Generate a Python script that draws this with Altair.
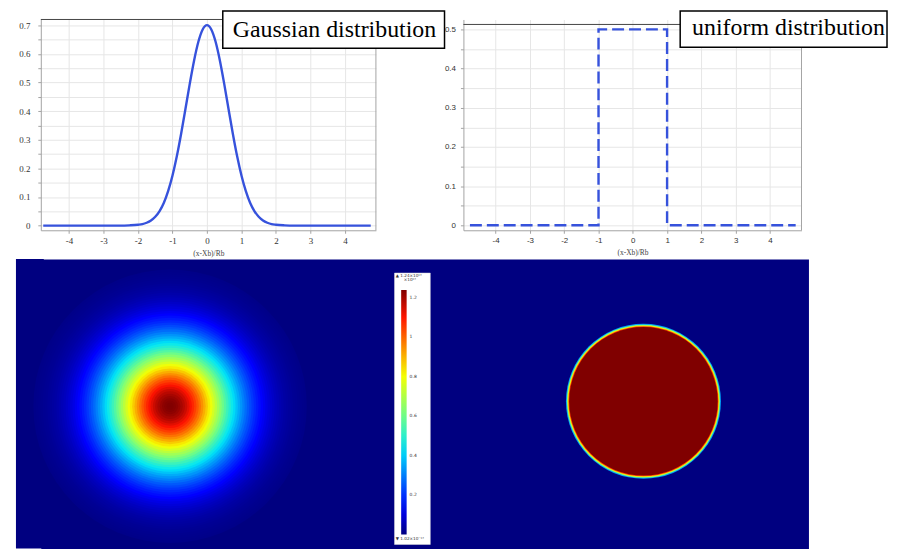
import altair as alt
import pandas as pd

# ---------------- data ----------------
gauss_x = [-4.75, -2.5, -2.25, -2.0, -1.875, -1.75, -1.625, -1.5, -1.375, -1.25, -1.125, -1.0,
           -0.875, -0.75, -0.625, -0.5, -0.375, -0.25, -0.125, 0.0, 0.125, 0.25, 0.375, 0.5,
           0.625, 0.75, 0.875, 1.0, 1.125, 1.25, 1.375, 1.5, 1.625, 1.75, 1.875, 2.0, 2.25, 2.5, 4.75]
gauss_y = [0.0, 0.0, 0.001, 0.003, 0.005, 0.010, 0.018, 0.031, 0.051, 0.080, 0.121, 0.175,
           0.242, 0.321, 0.407, 0.495, 0.576, 0.642, 0.685, 0.700, 0.685, 0.642, 0.576, 0.495,
           0.407, 0.321, 0.242, 0.175, 0.121, 0.080, 0.051, 0.031, 0.018, 0.010, 0.005, 0.003, 0.001, 0.0, 0.0]
unif_x = [-4.75, -1.0, -1.0, 1.0, 1.0, 4.75]
unif_y = [0.0, 0.0, 0.5, 0.5, 0.0, 0.0]
x_ticks = [-4, -3, -2, -1, 0, 1, 2, 3, 4]
gauss_y_ticks = [0, 0.05, 0.1, 0.15, 0.2, 0.25, 0.3, 0.35, 0.4, 0.45, 0.5, 0.55, 0.6, 0.65, 0.7]
unif_y_ticks = [0, 0.05, 0.1, 0.15, 0.2, 0.25, 0.3, 0.35, 0.4, 0.45, 0.5]

# bottom: radial profile of the Gaussian spot (outer radius of each disc in Rb, value x1e13)
blob_r = [0.015, 0.045, 0.075, 0.105, 0.135, 0.165, 0.195, 0.225, 0.255, 0.285,
          0.315, 0.345, 0.375, 0.405, 0.435, 0.465, 0.495, 0.525, 0.555, 0.585,
          0.615, 0.645, 0.675, 0.705, 0.735, 0.765, 0.795, 0.825, 0.855, 0.885,
          0.915, 0.945, 0.975, 1.005, 1.035, 1.065, 1.095, 1.125, 1.155, 1.185,
          1.215, 1.245, 1.275, 1.305, 1.335, 1.365, 1.395, 1.425, 1.455, 1.485,
          1.515, 1.545, 1.575, 1.605, 1.635, 1.665, 1.695, 1.725, 1.755, 1.785]
blob_v = [1.240, 1.238, 1.233, 1.225, 1.213, 1.198, 1.180, 1.159, 1.135, 1.109,
          1.080, 1.049, 1.016, 0.982, 0.946, 0.909, 0.871, 0.832, 0.793, 0.753,
          0.714, 0.675, 0.636, 0.597, 0.560, 0.523, 0.488, 0.453, 0.420, 0.388,
          0.358, 0.329, 0.302, 0.276, 0.251, 0.229, 0.207, 0.187, 0.169, 0.152,
          0.136, 0.122, 0.109, 0.097, 0.086, 0.076, 0.067, 0.059, 0.052, 0.045,
          0.039, 0.034, 0.030, 0.026, 0.022, 0.019, 0.016, 0.014, 0.012, 0.010]
blob_center = (2.013, 1.922)

disk_r = [1.012, 1.0, 0.99, 0.98, 0.97]
disk_v = [0.35, 0.62, 0.82, 1.05, 1.24]
disk_center = (8.195, 1.857)

cbar_values = [0.2, 0.4, 0.6, 0.8, 1.0, 1.2]
cbar_top = "▲ 1.24×10¹³"
cbar_unit = "×10¹³"
cbar_bottom = "▼ 1.02×10⁻¹³"
jet_domain = [0, 0.1364, 0.434, 0.62, 0.806, 1.1036, 1.24]
jet_colors = ["#000080", "#0000ff", "#00e6f7", "#7bff7b", "#f7ff00", "#ff1300", "#800000"]

# ---------------- styling ----------------
BLUE = "#3652dc"
GRID = "#e6e6e6"
FRAME = "#a3a3a3"
NAVY = "#000080"
label_expr_y = "round(datum.value*100) % 10 == 0 ? toString(round(datum.value*10)/10) : ''"


def note(text, x, y, size, font, color="black", align="left", baseline="alphabetic"):
    return alt.Chart(pd.DataFrame({"t": [text]})).mark_text(
        font=font, fontSize=size, align=align, baseline=baseline, color=color).encode(
        text="t:N", x=alt.value(x), y=alt.value(y))


def rule(x, x2, y, y2, color, width=1.0):
    return alt.Chart(pd.DataFrame({"a": [0]})).mark_rule(color=color, strokeWidth=width).encode(
        x=alt.value(x), x2=alt.value(x2), y=alt.value(y), y2=alt.value(y2))


def box(x, x2, y, y2, fill, stroke, sw):
    return alt.Chart(pd.DataFrame({"a": [0]})).mark_rect(fill=fill, stroke=stroke, strokeWidth=sw).encode(
        x=alt.value(x), x2=alt.value(x2), y=alt.value(y), y2=alt.value(y2))


def profile_chart(xs, ys, xdom, ydom, width, yticks, dash, lab_font, lab_size, lab_pad,
                  box_label, bx, text_pos, top_y):
    df = pd.DataFrame({"x": xs, "y": ys, "i": list(range(len(xs)))})
    xsc = alt.Scale(domain=xdom, nice=False, zero=False)
    ysc = alt.Scale(domain=ydom, nice=False, zero=False)
    props = dict(color=BLUE, strokeWidth=2.4)
    if dash:
        props["strokeDash"] = dash
    else:
        props["interpolate"] = "monotone"
    line = alt.Chart(df).mark_line(**props).encode(
        x=alt.X("x:Q", scale=xsc, axis=alt.Axis(
            values=x_ticks, grid=True, gridColor=GRID, domainColor=FRAME, tickColor=FRAME,
            tickSize=3, labelFont=lab_font, labelFontSize=lab_size, labelColor="#333",
            labelPadding=3, labelExpr="toString(datum.value)", title="(x-Xb)/Rb",
            titleFont="Liberation Serif", titleFontSize=7.5, titleFontWeight="normal",
            titleColor="#444", titlePadding=4)),
        y=alt.Y("y:Q", scale=ysc, axis=alt.Axis(
            values=yticks, grid=True, gridColor=GRID, domainColor=FRAME, tickColor=FRAME,
            tickSize=3, labelFont=lab_font, labelFontSize=lab_size, labelColor="#333",
            labelPadding=lab_pad, labelExpr=label_expr_y, title=None)),
        order="i:Q",
    )
    rect = box(bx[0], bx[1], bx[2], bx[3], "white", "black", 1.5)
    txt = note(box_label, text_pos[0], text_pos[1], 24, "Liberation Serif")
    right_edge = rule(width, width, top_y, 212, FRAME)
    top_edge = rule(0, bx[0], top_y, top_y, "#444")
    return alt.layer(line, right_edge, top_edge, rect, txt).properties(width=width, height=212)


left = profile_chart(gauss_x, gauss_y, [-4.82, 4.90], [-0.0163, 0.7198], 337, gauss_y_ticks,
                     None, "Liberation Serif", 9, 8, "Gaussian distribution",
                     (183, 406, -8.5, 29), (193, 17.5), 0)
right = profile_chart(unif_x, unif_y, [-4.94, 4.92], [-0.0127, 0.5254], 340, unif_y_ticks,
                      [12, 5], "Liberation Sans", 8, 5, "uniform distribution",
                      (218, 426, -8.5, 28), (230, 15.5), 5)
top_row = alt.hconcat(left, right, spacing=88, bounds="flush")

# ---------------- bottom field plots ----------------
rows = []
for r, v in reversed(list(zip(blob_r, blob_v))):
    rows.append({"cx": blob_center[0], "cy": blob_center[1], "r": r, "v": v})
for r, v in zip(disk_r, disk_v):
    rows.append({"cx": disk_center[0], "cy": disk_center[1], "r": r, "v": v})
rings = pd.DataFrame(rows)

# circle symbol: size = (2*radius_px)^2 ; 1 Rb = 77 px
discs = alt.Chart(rings).mark_point(shape="circle", filled=True, opacity=1, strokeWidth=0).encode(
    x=alt.X("cx:Q", scale=alt.Scale(domain=[0.325, 10.35], nice=False, zero=False), axis=None),
    y=alt.Y("cy:Q", scale=alt.Scale(domain=[0, 3.779], nice=False, zero=False, reverse=True), axis=None),
    size=alt.Size("r:Q", scale=alt.Scale(type="pow", exponent=2, domain=[0, 1], range=[0, 23716]),
                  legend=None),
    color=alt.Color("v:Q", scale=alt.Scale(domain=jet_domain, range=jet_colors, interpolate="rgb"),
                    legend=alt.Legend(orient="none", legendX=362.4, legendY=272, direction="vertical",
                                      gradientLength=246, gradientThickness=5.5, title=None,
                                      values=cbar_values, labelFontSize=4.5, labelFont="DejaVu Sans",
                                      labelColor="#333", labelOffset=3, gradientStrokeWidth=0,
                                      labelOverlap=False, labelExpr="toString(datum.value)", padding=0)),
)

heat = (alt.layer(box(-25, 3, 0, 291, NAVY, NAVY, 0),
                  discs,
                  box(355.7, 391.7, 14, 287, "white", "#dddddd", 0.5),
                  note(cbar_top, 357, 18, 4.2, "DejaVu Sans", "#333"),
                  note(cbar_unit, 365, 22, 4.2, "DejaVu Sans", "#333"),
                  note(cbar_bottom, 357, 282, 4.2, "DejaVu Sans", "#333"))
        .properties(width=772, height=291,
                    view=alt.ViewBackground(fill=NAVY, stroke="transparent")))

chart = (alt.vconcat(top_row, heat, spacing=1)
         .properties(padding={"left": 7, "top": 0, "right": 0, "bottom": 0})
         .configure_view(stroke="transparent"))

chart.save("out.html", embed_options={"renderer": "svg", "actions": False})
